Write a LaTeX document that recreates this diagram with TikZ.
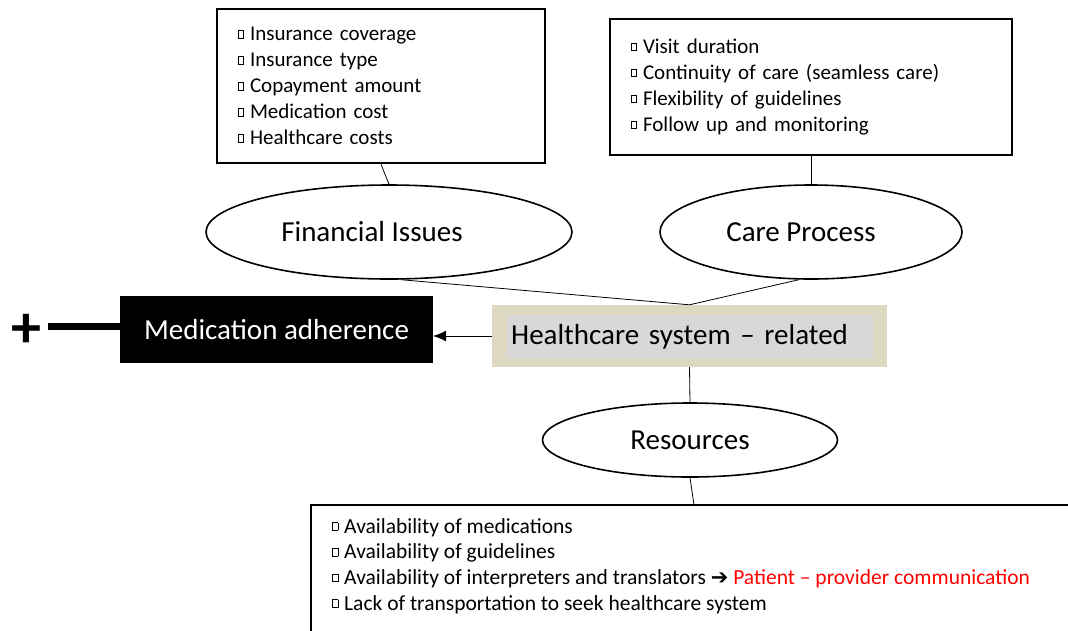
\documentclass[tikz,border=0pt]{standalone}
\usepackage{fontspec}
\setmainfont{Carlito}
\newfontfamily\djv{DejaVu Sans}
\usetikzlibrary{arrows.meta,shapes.geometric,calc}
\definecolor{tan}{RGB}{221,216,194}
\definecolor{inner}{RGB}{216,216,216}
\definecolor{redtxt}{RGB}{255,0,0}
\newcommand\bul{\raisebox{0.3ex}{\fboxsep=0pt\fboxrule=0.7pt\framebox[6pt]{\rule{0pt}{7pt}}}\hspace{6pt}}
\begin{document}
\begin{tikzpicture}[x=1pt,y=-1pt,
  listbox/.style={draw,line width=2.5pt,align=left,inner xsep=21pt,inner ysep=0pt,font=\fontsize{21}{26}\selectfont},
  oval/.style={ellipse,draw,line width=1.6pt,inner sep=0pt,font=\fontsize{29}{32}\selectfont},
  conn/.style={line width=0.8pt}]
\useasboundingbox (0,0) rectangle (1068,630);
% top boxes
\node[listbox,minimum width=328,minimum height=154,text width=286] (fbox) at (381,86)
 {\bul Insurance coverage\\ \bul Insurance type\\ \bul Copayment amount\\ \bul Medication cost\\ \bul Healthcare costs};
\node[listbox,minimum width=402,minimum height=136,text width=360] (cbox) at (811,87)
 {\bul Visit duration\\ \bul Continuity of care (seamless care)\\ \bul Flexibility of guidelines\\ \bul Follow up and monitoring\\[-8pt]};
% ellipses
\node[oval,minimum width=366,minimum height=94] (fi) at (389,232) {Financial Issues\hspace*{34pt}};
\node[oval,minimum width=302,minimum height=94] (cp) at (811,232) {Care Process\hspace*{20pt}};
% central box
\node[fill=tan,minimum width=395,minimum height=62,inner sep=0pt] (hs) at (689.5,336) {};
\node[fill=inner,minimum width=366,minimum height=43,inner sep=0pt,anchor=west,
  text width=358,align=left,font=\fontsize{29}{32}\selectfont] (hsi) at (507,336.5) {Healthcare system -- related};
% medication adherence
\node[fill=black,text=white,minimum width=313,minimum height=67,inner sep=0pt,
  font=\fontsize{29}{32}\selectfont] (ma) at (276.5,329.5) {Medication adherence};
\node[font=\fontsize{60}{62}\selectfont\bfseries,inner sep=0pt] (plus) at (26,331) {+};
\coordinate (tl) at (48,326);
\draw[line width=7pt] (tl) -- (tl -| ma.west);
% resources
\node[oval,minimum width=295,minimum height=74] (res) at (690,440) {Resources};
\coordinate (rtop) at (694,505);
\draw[line width=2.5pt] (1070,505) -| (311,632);
\node[anchor=north west,align=left,inner sep=0pt,font=\fontsize{21.5}{25.7}\selectfont] (rlist) at (332,518)
 {\bul Availability of medications\\ \bul Availability of guidelines\\
  \bul Availability of interpreters and translators {\djv\bfseries\fontsize{21}{20}\selectfont ➔} \textcolor{redtxt}{Patient -- provider communication}\\
  \bul Lack of transportation to seek healthcare system};
% connectors
\draw[conn] (fbox.south) -- (fi.north);
\draw[conn] (cbox.south) -- (cp.north);
\draw[conn] (fi.-76) -- (hs.north) -- (cp.-104);
\draw[conn,-{Latex[length=13pt,width=11pt]}] (hs.west) -- (hs.west -| ma.east);
\draw[conn] (hs.south) -- (res.north);
\draw[conn] (res.south) -- (rtop);
\end{tikzpicture}
\end{document}
